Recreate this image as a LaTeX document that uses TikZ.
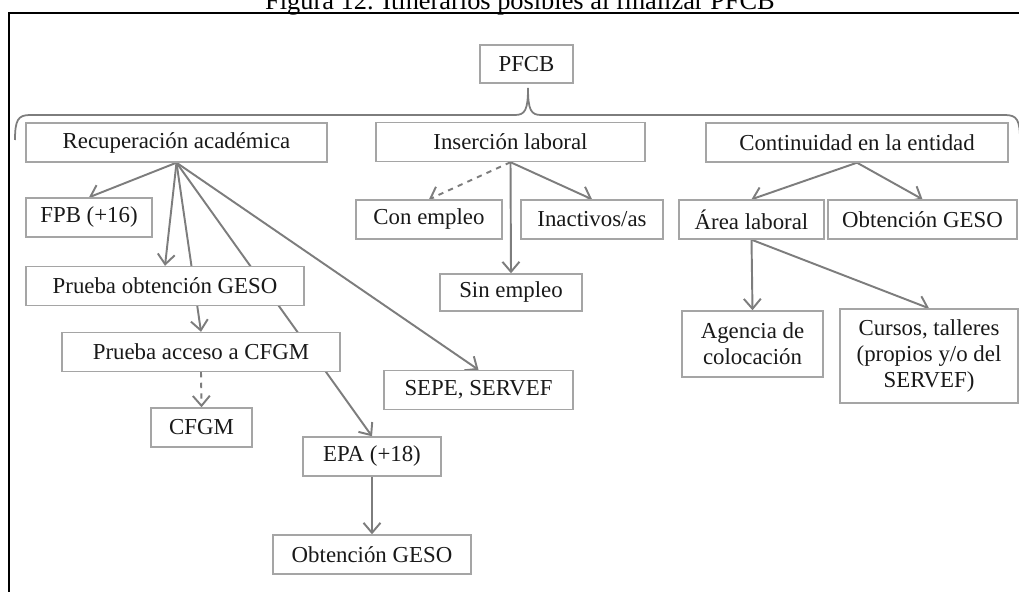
\documentclass[tikz,border=0pt]{standalone}
\usepackage{fontspec}
\setmainfont{Liberation Serif}
\usetikzlibrary{arrows.meta}
\usetikzlibrary{backgrounds}
\definecolor{boxgray}{RGB}{165,165,165}
\definecolor{arrowgray}{RGB}{125,125,125}
\begin{document}
\begin{tikzpicture}[>={Straight Barb[length=2mm,width=3.4mm]},box node/.style={rectangle,draw=boxgray,line width=0.8pt,fill=white,align=center,text=black!90,font=\fontsize{13}{15}\selectfont,minimum height=0.78cm,inner sep=2pt},arrow/.style={->,draw=arrowgray,line width=1.1pt}]

		\useasboundingbox (0,0) rectangle (20.38,-11.84);

		\node[font=\fontsize{15}{17}\selectfont,anchor=base] at (10.40,-0.20) (0) {Figura 12. Itinerarios posibles al finalizar PFCB};
		\draw[line width=1.4pt] (0.18,-12.5) |- (21,-0.26);

		\node[box node, minimum width=1.86cm, minimum height=0.76cm] at (10.53,-1.28) (1) {PFCB};
		\node[box node, minimum width=6.02cm] at (3.53,-2.85) (2) {Recuperación académica};
		\node[box node, minimum width=5.38cm] at (10.21,-2.84) (3) {Inserción laboral};
		\node[box node, minimum width=6.04cm] at (17.14,-2.85) (4) {Continuidad en la entidad};
		\node[box node, minimum width=2.52cm] at (1.78,-4.35) (5) {FPB (+16)};
		\node[box node, minimum width=2.92cm] at (8.58,-4.39) (6) {Con empleo};
		\node[box node, minimum width=2.84cm] at (11.84,-4.39) (7) {Inactivos/as};
		\node[box node, minimum width=2.90cm] at (15.03,-4.39) (8) {Área laboral};
		\node[box node, minimum width=3.78cm] at (18.45,-4.39) (9) {Obtención GESO};
		\node[box node, minimum width=5.56cm] at (3.30,-5.72) (10) {Prueba obtención GESO};
		\node[box node, minimum width=2.84cm, minimum height=0.74cm] at (10.22,-5.85) (11) {Sin empleo};
		\node[box node, minimum width=5.56cm] at (4.02,-7.04) (12) {Prueba acceso a CFGM};
		\node[box node, minimum width=3.78cm] at (9.57,-7.80) (13) {SEPE, SERVEF};
		\node[box node, minimum width=2.82cm, minimum height=1.32cm] at (15.05,-6.88) (14) {Agencia de\\colocación};
		\node[box node, minimum width=3.56cm, minimum height=1.88cm] at (18.58,-7.12) (15) {Cursos, talleres\\(propios y/o del\\SERVEF)};
		\node[box node, minimum width=2.02cm] at (4.03,-8.55) (16) {CFGM};
		\node[box node, minimum width=2.76cm] at (7.44,-9.13) (17) {EPA (+18)};
		\node[box node, minimum width=3.96cm] at (7.44,-11.09) (18) {Obtención GESO};

		% llave bajo PFCB
		\draw[arrowgray, line width=1pt] (0.30,-2.80) .. controls (0.30,-2.40) and (0.36,-2.30) .. (0.60,-2.30) -- (10.30,-2.30) .. controls (10.50,-2.30) and (10.56,-2.20) .. (10.56,-1.76) .. controls (10.56,-2.20) and (10.62,-2.30) .. (10.82,-2.30) -- (20.10,-2.30) .. controls (20.34,-2.30) and (20.40,-2.40) .. (20.40,-2.80);

		\begin{scope}[on background layer]
		\path
		(2.south) edge[arrow] (5.north)
		(2.south) edge[arrow] (10.north)
		(2.south) edge[arrow] (12.north)
		(2.south) edge[arrow] (17.north)
		(2.south) edge[arrow] (13.north)
		(12.south) edge[arrow,dashed] (16.north)
		(17.south) edge[arrow] (18.north)
		(3.south) edge[arrow,dashed] (6.north)
		(3.south) edge[arrow] (11.north)
		(3.south) edge[arrow] (7.north)
		(4.south) edge[arrow] (8.north)
		(4.south) edge[arrow] (9.north)
		(8.south) edge[arrow] (14.north)
		(8.south) edge[arrow] (15.north)
		;
		\end{scope}

\end{tikzpicture}
\end{document}
